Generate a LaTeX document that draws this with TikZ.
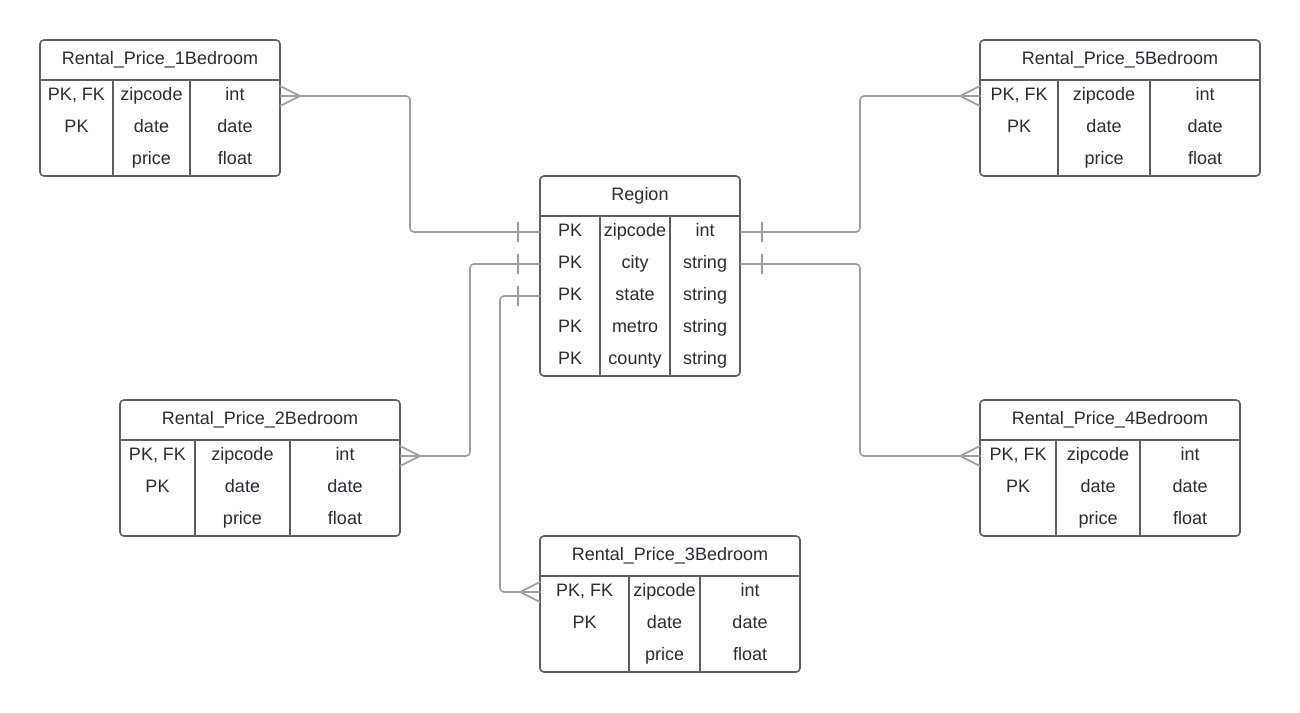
\documentclass[tikz,border=0pt]{standalone}
\usepackage{fontspec}
\setmainfont{Liberation Sans}
\usetikzlibrary{calc}
\definecolor{frame}{HTML}{5E5E5E}
\definecolor{link}{HTML}{9E9E9E}
\definecolor{ink}{HTML}{282C33}

% one entity box: name, left, top, three column widths, title, rows
\newcommand{\entity}[8]{%
  \pgfmathsetmacro\ewa{#4}
  \pgfmathsetmacro\ewb{#4+#5}
  \pgfmathsetmacro\ew{#4+#5+#6}
  \pgfmathsetmacro\eh{40}
  \foreach \k/\c/\t [count=\i] in {#8} {
    \pgfmathsetmacro\ey{40+32*\i-16}
    \node[cell] (#1-k\i) at ({#2+#4/2},{#3+\ey}) {\k};
    \node[cell] (#1-c\i) at ({#2+\ewa+#5/2},{#3+\ey}) {\c};
    \node[cell] (#1-t\i) at ({#2+\ewb+#6/2},{#3+\ey}) {\t};
    \coordinate (#1-w\i) at (#2,{#3+\ey});
    \coordinate (#1-e\i) at ({#2+\ew},{#3+\ey});
    \global\let\erows\i
  }
  \pgfmathsetmacro\eh{40+32*\erows}
  \node[box, minimum width=\ew pt, minimum height=\eh pt, anchor=north west] (#1) at (#2,#3) {};
  \node[cell] (#1-title) at ({#2+\ew/2},{#3+20}) {#7};
  \draw[frame, line width=1.6pt] (#2,#3+40) -- ++(\ew,0);
  \draw[frame, line width=1.6pt] ({#2+\ewa},#3+40) -- ({#2+\ewa},{#3+\eh});
  \draw[frame, line width=1.6pt] ({#2+\ewb},#3+40) -- ({#2+\ewb},{#3+\eh});
}

% crow's foot (many) and single bar (one); #2 = +1 to the right, -1 to the left
\newcommand{\many}[2]{%
  \draw[conn, line cap=round] ($(#1)+(0,-10)$) -- ($(#1)+(#2*20,0)$) -- ($(#1)+(0,10)$);
}
\newcommand{\one}[2]{%
  \draw[conn] ($(#1)+(#2*22,-10)$) -- ($(#1)+(#2*22,10)$);
}

\begin{document}
\begin{tikzpicture}[x=1pt,y=-1pt,
  box/.style={draw=frame, line width=1.6pt, rounded corners=4pt, rectangle, inner sep=0pt, outer sep=0pt},
  cell/.style={text=ink, font=\fontsize{18}{21}\selectfont, inner sep=0pt, text height=13pt, text depth=4pt},
  conn/.style={draw=link, line width=1.6pt},
  link/.style={conn, rounded corners=4pt}]
  \useasboundingbox (0,0) rectangle (1300,712);

  % Tables
  \entity{region}{540}{176}{60}{70}{70}{Region}{PK/zipcode/int,PK/city/string,PK/state/string,PK/metro/string,PK/county/string}
  \entity{one}{40}{40}{73}{77}{90}{Rental\_Price\_1Bedroom}{{PK, FK}/zipcode/int,PK/date/date,{}/price/float}
  \entity{two}{120}{400}{75}{95}{110}{Rental\_Price\_2Bedroom}{{PK, FK}/zipcode/int,PK/date/date,{}/price/float}
  \entity{three}{540}{536}{89}{71}{100}{Rental\_Price\_3Bedroom}{{PK, FK}/zipcode/int,PK/date/date,{}/price/float}
  \entity{four}{980}{400}{76}{84}{100}{Rental\_Price\_4Bedroom}{{PK, FK}/zipcode/int,PK/date/date,{}/price/float}
  \entity{five}{980}{40}{78}{92}{110}{Rental\_Price\_5Bedroom}{{PK, FK}/zipcode/int,PK/date/date,{}/price/float}

  % Relations
  \draw[link] (one-e1) -- ++(130,0) |- (region-w1);
  \draw[link] (two-e1) -- ++(70,0) |- (region-w2);
  \draw[link] (three-w1) -- ++(-40,0) |- (region-w3);
  \draw[link] (five-w1) -- ++(-120,0) |- (region-e1);
  \draw[link] (four-w1) -- ++(-120,0) |- (region-e2);

  % Ends
  \many{one-e1}{1}
  \many{two-e1}{1}
  \many{three-w1}{-1}
  \many{four-w1}{-1}
  \many{five-w1}{-1}
  \one{region-w1}{-1}
  \one{region-w2}{-1}
  \one{region-w3}{-1}
  \one{region-e1}{1}
  \one{region-e2}{1}
\end{tikzpicture}
\end{document}
